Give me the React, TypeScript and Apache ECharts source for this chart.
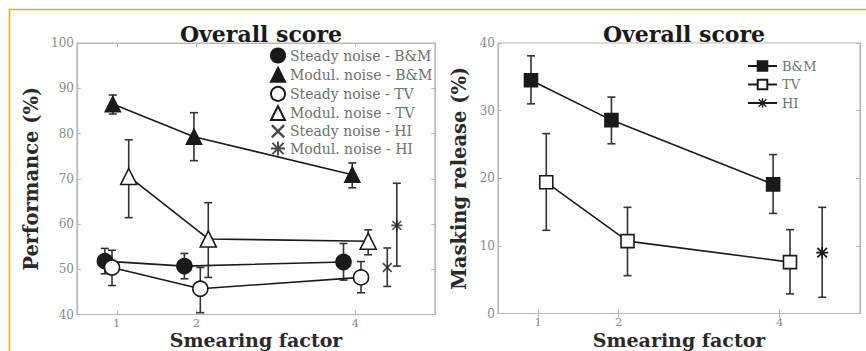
import React, { useEffect, useRef } from "react";
import * as echarts from "echarts";

// ---- Left panel: Performance (%) ----
const xSteadyBM = [0.85, 1.85, 3.85];
const ySteadyBM = [51.8, 50.7, 51.6];
const loSteadyBM = [49.0, 47.9, 47.6];
const hiSteadyBM = [54.6, 53.5, 55.7];

const xModulBM = [0.95, 1.97, 3.96];
const yModulBM = [86.5, 79.3, 70.9];
const loModulBM = [84.3, 74.0, 68.0];
const hiModulBM = [88.5, 84.6, 73.5];

const xSteadyTV = [0.94, 2.05, 4.07];
const ySteadyTV = [50.4, 45.7, 48.2];
const loSteadyTV = [46.4, 40.4, 44.8];
const hiSteadyTV = [54.2, 50.4, 51.7];

const xModulTV = [1.15, 2.15, 4.16];
const yModulTV = [70.5, 56.7, 56.2];
const loModulTV = [61.4, 48.2, 53.2];
const hiModulTV = [78.6, 64.7, 58.7];

const xSteadyHI = [4.4];
const ySteadyHI = [50.4];
const loSteadyHI = [46.2];
const hiSteadyHI = [54.7];

const xModulHI = [4.52];
const yModulHI = [59.7];
const loModulHI = [50.7];
const hiModulHI = [69.0];

// ---- Right panel: Masking release (%) ----
const xRelBM = [0.91, 1.91, 3.92];
const yRelBM = [34.5, 28.6, 19.1];
const loRelBM = [31.0, 25.1, 14.8];
const hiRelBM = [38.1, 32.0, 23.5];

const xRelTV = [1.1, 2.11, 4.13];
const yRelTV = [19.4, 10.7, 7.6];
const loRelTV = [12.3, 5.6, 2.9];
const hiRelTV = [26.6, 15.7, 12.4];

const xRelHI = [4.53];
const yRelHI = [9.0];
const loRelHI = [2.4];
const hiRelHI = [15.7];

const xTicks = [1, 2, 4];
const leftNames = [
  "Steady noise - B&M",
  "Modul. noise - B&M",
  "Steady noise - TV",
  "Modul. noise - TV",
  "Steady noise - HI",
  "Modul. noise - HI",
];
const rightNames = ["B&M", "TV", "HI"];
const titleText = "Overall score";

const SERIF = "'DejaVu Serif', serif";
const INK = "#1a1a1a";
const FRAME = "#b8b8b8";
const TICKTXT = "#8a8a8a";

// filled shapes so strokes stay solid at any size
const X_SYM = "path://M0,1.2L1.2,0L5,3.8L8.8,0L10,1.2L6.2,5L10,8.8L8.8,10L5,6.2L1.2,10L0,8.8L3.8,5Z";
const AST_SYM =
  "path://M4.3,0L5.7,0L5.7,10L4.3,10Z M0,4.3L10,4.3L10,5.7L0,5.7Z M1.5,0.5L9.5,8.5L8.5,9.5L0.5,1.5Z M8.5,0.5L9.5,1.5L1.5,9.5L0.5,8.5Z";

const zip = (xs: number[], ys: number[]) => xs.map((x, i) => [x, ys[i]]);
const errData = (xs: number[], lo: number[], hi: number[]) => xs.map((x, i) => [x, lo[i], hi[i]]);

function errSeries(xi: number, yi: number, xs: number[], lo: number[], hi: number[]) {
  return {
    type: "custom",
    xAxisIndex: xi,
    yAxisIndex: yi,
    z: 1,
    silent: true,
    data: errData(xs, lo, hi),
    encode: { x: 0, y: [1, 2] },
    renderItem: (params: any, api: any) => {
      const x = api.value(0);
      const a = api.coord([x, api.value(1)]);
      const b = api.coord([x, api.value(2)]);
      const cw = 4;
      const style = { stroke: "#333", lineWidth: 1.6 };
      return {
        type: "group",
        children: [
          { type: "line", shape: { x1: a[0], y1: a[1], x2: b[0], y2: b[1] }, style },
          { type: "line", shape: { x1: a[0] - cw, y1: a[1], x2: a[0] + cw, y2: a[1] }, style },
          { type: "line", shape: { x1: b[0] - cw, y1: b[1], x2: b[0] + cw, y2: b[1] }, style },
        ],
      };
    },
  };
}

function lineSeries(name: string, xi: number, yi: number, xs: number[], ys: number[], symbol: string, size: number, filled: boolean) {
  return {
    name,
    type: "line",
    xAxisIndex: xi,
    yAxisIndex: yi,
    z: 3,
    data: zip(xs, ys),
    symbol,
    symbolSize: size,
    showAllSymbol: true,
    lineStyle: { color: INK, width: 1.6 },
    itemStyle: { color: filled ? INK : "#fff", borderColor: INK, borderWidth: 1.6 },
  };
}

function starSeries(name: string, xi: number, yi: number, xs: number[], ys: number[], symbol: string, size: number) {
  return {
    name,
    type: "scatter",
    xAxisIndex: xi,
    yAxisIndex: yi,
    z: 3,
    data: zip(xs, ys),
    symbol,
    symbolSize: size,
    itemStyle: { color: INK, borderWidth: 0 },
  };
}

function xAxes(gi: number, gap: number) {
  const common = {
    type: "value",
    gridIndex: gi,
    min: 0.5,
    max: 5,
    splitLine: { show: false },
    axisLine: { show: true, lineStyle: { color: FRAME, width: 1.2 } },
    axisTick: { show: true, inside: true, length: 4, customValues: xTicks, lineStyle: { color: FRAME } },
  };
  return [
    {
      ...common,
      position: "bottom",
      name: "Smearing factor",
      nameLocation: "middle",
      nameMoveOverlap: false,
      nameGap: gap,
      nameTextStyle: { fontFamily: SERIF, fontSize: 19, lineHeight: 17, fontWeight: "bold", color: "#2a2a2a" },
      axisLabel: { customValues: xTicks, fontFamily: SERIF, fontSize: 11.5, lineHeight: 12, color: TICKTXT, margin: 2 },
    },
    { ...common, position: "top", axisLabel: { show: false } },
  ];
}

function yAxes(gi: number, min: number, max: number, name: string, gap: number) {
  const common = {
    type: "value",
    gridIndex: gi,
    min,
    max,
    interval: 10,
    splitLine: { show: false },
    axisLine: { show: true, lineStyle: { color: FRAME, width: 1.2 } },
    axisTick: { show: true, inside: true, length: 4, lineStyle: { color: FRAME } },
  };
  return [
    {
      ...common,
      position: "left",
      name,
      nameLocation: "middle",
      nameGap: gap,
      nameTextStyle: { fontFamily: SERIF, fontSize: 19.5, fontWeight: "bold", color: "#2a2a2a" },
      axisLabel: { fontFamily: SERIF, fontSize: 12, color: TICKTXT, margin: 3 },
    },
    { ...common, position: "right", axisLabel: { show: false } },
  ];
}

export default function App() {
  const ref = useRef<HTMLDivElement>(null);
  useEffect(() => {
    if (!ref.current) return;
    const chart = echarts.init(ref.current, null, { renderer: "svg" });
    const legIcon = (name: string, icon: string) => ({ name, icon });
    const titleStyle = { fontFamily: SERIF, fontSize: 22, fontWeight: "bold", color: INK };
    const option: any = {
      animation: false,
      backgroundColor: "#fff",
      title: [
        { text: titleText, left: 256, top: 18, textAlign: "center", textStyle: titleStyle },
        { text: titleText, left: 679, top: 18, textAlign: "center", textStyle: titleStyle },
      ],
      grid: [
        { left: 77, top: 43, width: 358, height: 271.5, outerBoundsMode: "none", containLabel: false, show: true, borderColor: FRAME, borderWidth: 1.2, backgroundColor: "transparent" },
        { left: 498, top: 43, width: 362, height: 270.5, outerBoundsMode: "none", containLabel: false, show: true, borderColor: FRAME, borderWidth: 1.2, backgroundColor: "transparent" },
      ],
      xAxis: [...xAxes(0, 16.5), ...xAxes(1, 17.5)],
      yAxis: [...yAxes(0, 40, 100, "Performance (%)", 36), ...yAxes(1, 0, 40, "Masking release (%)", 29)],
      legend: [
        {
          orient: "vertical",
          left: 270,
          top: 47.5,
          padding: 0,
          itemGap: 3.2,
          itemWidth: 14,
          itemHeight: 14,
          selectedMode: false,
          textStyle: { fontFamily: SERIF, fontSize: 14, lineHeight: 14, color: "#707070" },
          data: [
            legIcon(leftNames[0], "circle"),
            legIcon(leftNames[1], "triangle"),
            legIcon(leftNames[2], "circle"),
            legIcon(leftNames[3], "triangle"),
            legIcon(leftNames[4], X_SYM),
            legIcon(leftNames[5], AST_SYM),
          ],
        },
        {
          orient: "vertical",
          left: 747,
          top: 59.5,
          padding: 0,
          itemGap: 5.5,
          itemWidth: 29,
          itemHeight: 12,
          selectedMode: false,
          textStyle: { fontFamily: SERIF, fontSize: 13, lineHeight: 13, color: "#707070" },
          data: rightNames,
        },
      ],
      graphic: [
        { type: "line", shape: { x1: 9, y1: 9.5, x2: 866, y2: 9.5 }, style: { stroke: "#f2a53a", lineWidth: 1.6 } },
        { type: "line", shape: { x1: 9.5, y1: 9, x2: 9.5, y2: 351 }, style: { stroke: "#f2a53a", lineWidth: 1.6 } },
      ],
      series: [
        errSeries(0, 0, xSteadyBM, loSteadyBM, hiSteadyBM),
        errSeries(0, 0, xModulBM, loModulBM, hiModulBM),
        errSeries(0, 0, xSteadyTV, loSteadyTV, hiSteadyTV),
        errSeries(0, 0, xModulTV, loModulTV, hiModulTV),
        errSeries(0, 0, xSteadyHI, loSteadyHI, hiSteadyHI),
        errSeries(0, 0, xModulHI, loModulHI, hiModulHI),
        lineSeries(leftNames[0], 0, 0, xSteadyBM, ySteadyBM, "circle", 15, true),
        lineSeries(leftNames[1], 0, 0, xModulBM, yModulBM, "triangle", 15, true),
        lineSeries(leftNames[2], 0, 0, xSteadyTV, ySteadyTV, "circle", 15, false),
        lineSeries(leftNames[3], 0, 0, xModulTV, yModulTV, "triangle", 16, false),
        starSeries(leftNames[4], 0, 0, xSteadyHI, ySteadyHI, X_SYM, 10),
        starSeries(leftNames[5], 0, 0, xModulHI, yModulHI, AST_SYM, 11),
        errSeries(2, 2, xRelBM, loRelBM, hiRelBM),
        errSeries(2, 2, xRelTV, loRelTV, hiRelTV),
        errSeries(2, 2, xRelHI, loRelHI, hiRelHI),
        lineSeries(rightNames[0], 2, 2, xRelBM, yRelBM, "rect", 13, true),
        lineSeries(rightNames[1], 2, 2, xRelTV, yRelTV, "rect", 13, false),
        { ...lineSeries(rightNames[2], 2, 2, xRelHI, yRelHI, AST_SYM, 12, true), itemStyle: { color: INK, borderWidth: 0 } },
      ],
    };
    chart.setOption(option);
    return () => chart.dispose();
  }, []);
  return <div ref={ref} style={{ width: 866, height: 351, position: "absolute", left: 0, top: 0 }} />;
}
